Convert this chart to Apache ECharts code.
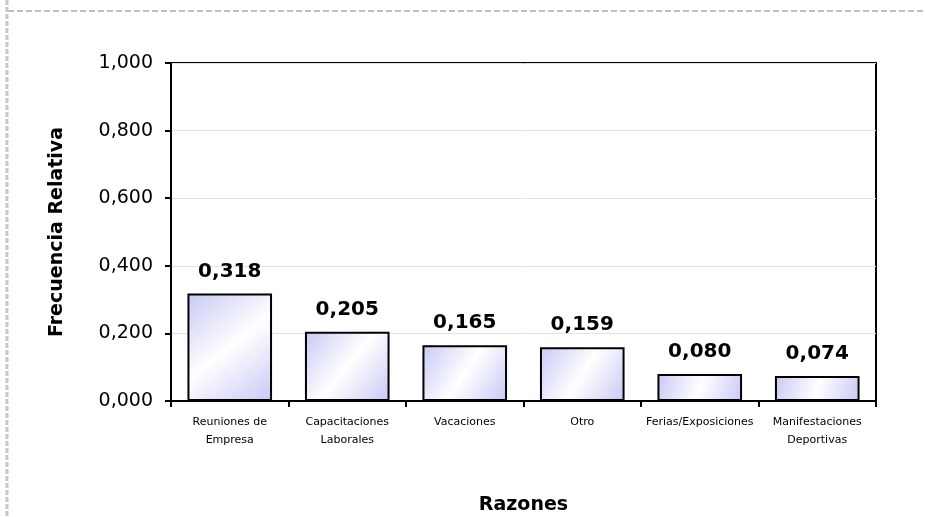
<!DOCTYPE html>
<html>
<head>
<meta charset="utf-8">
<script src="https://cdn.jsdelivr.net/npm/echarts@6/dist/echarts.min.js"></script>
<style>
  html, body { margin: 0; padding: 0; background: #fff; }
  #main { width: 925px; height: 517px; }
</style>
</head>
<body>
<div id="main"></div>
<script>
// datos del gráfico
const razones = ['Reuniones de\nEmpresa', 'Capacitaciones\nLaborales', 'Vacaciones', 'Otro', 'Ferias/Exposiciones', 'Manifestaciones\nDeportivas'];
const frecuencia = [0.318, 0.205, 0.165, 0.159, 0.080, 0.074];

const chart = echarts.init(document.getElementById('main'));

const fmt = v => v.toFixed(3).replace('.', ',');

const option = {
  animation: false,
  textStyle: { fontFamily: 'DejaVu Sans' },
  graphic: [
    // bordes punteados de la página
    { type: 'line', shape: { x1: 8, y1: 11, x2: 925, y2: 11 }, style: { stroke: '#c0c0c0', lineWidth: 2, lineDash: [6, 3] } },
    { type: 'line', shape: { x1: 7, y1: 0, x2: 7, y2: 517 }, style: { stroke: '#c8c8c8', lineWidth: 3, lineDash: [5, 2] } }
  ],
  grid: {
    left: 171, top: 63, right: 49, bottom: 116,
    outerBoundsMode: 'none',
    show: true, borderColor: '#000', borderWidth: 2, backgroundColor: 'transparent'
  },
  xAxis: {
    type: 'category',
    data: razones,
    name: 'Razones',
    nameLocation: 'middle',
    nameGap: 95,
    nameTextStyle: { fontSize: 19, fontWeight: 'bold', color: '#000', fontFamily: 'DejaVu Sans' },
    axisLine: { lineStyle: { color: '#000', width: 2 } },
    axisTick: { show: true, length: 6, lineStyle: { color: '#000', width: 2 } },
    axisLabel: { color: '#000', fontSize: 11, lineHeight: 18, margin: 12, interval: 0, fontFamily: 'DejaVu Sans' }
  },
  yAxis: {
    type: 'value',
    min: 0, max: 1, interval: 0.2,
    name: 'Frecuencia Relativa',
    nameLocation: 'middle',
    nameGap: 104,
    nameTextStyle: { fontSize: 19, fontWeight: 'bold', color: '#000', fontFamily: 'DejaVu Sans' },
    axisLine: { show: true, lineStyle: { color: '#000', width: 2 } },
    axisTick: { show: true, inside: false, length: 6, lineStyle: { color: '#000', width: 2 } },
    axisLabel: { color: '#000', fontSize: 19, margin: 18, formatter: fmt, fontFamily: 'DejaVu Sans' },
    splitLine: { lineStyle: { color: '#e2e2e2', width: 1 } }
  },
  series: [{
    type: 'bar',
    data: frecuencia,
    barWidth: '72%',
    itemStyle: {
      borderColor: '#000',
      borderWidth: 2,
      color: new echarts.graphic.LinearGradient(0, 0, 1, 1, [
        { offset: 0, color: '#c8c8f6' },
        { offset: 0.5, color: '#ffffff' },
        { offset: 1, color: '#c8c8f6' }
      ])
    },
    label: {
      show: true,
      position: 'top',
      distance: 12,
      formatter: p => fmt(p.value),
      fontSize: 20,
      fontWeight: 'bold',
      color: '#000',
      fontFamily: 'DejaVu Sans'
    }
  }]
};

chart.setOption(option);
</script>
</body>
</html>
